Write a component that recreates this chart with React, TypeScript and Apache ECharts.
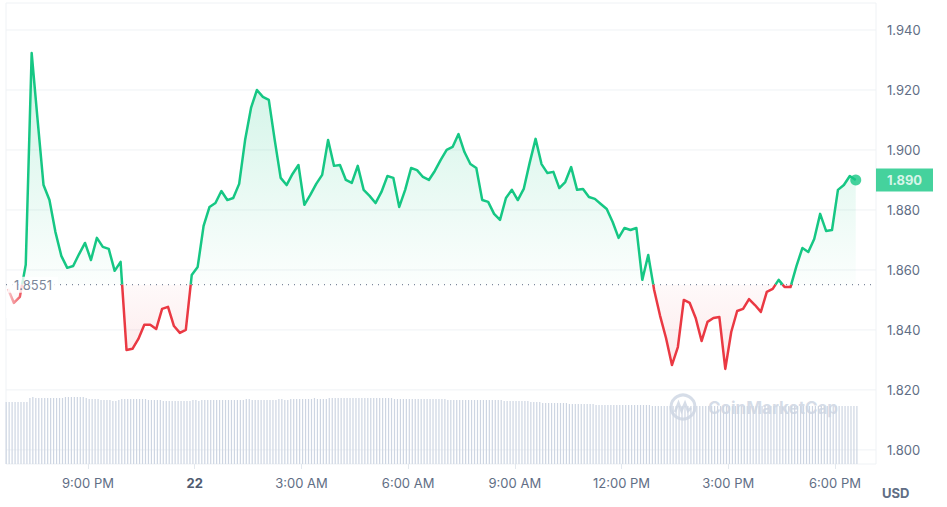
import React, { useEffect, useRef } from "react";
import * as echarts from "echarts";

const GREEN = "#16c784";
const RED = "#ea3943";
const LABEL = "#616e85";
const GRIDC = "#eff2f5";

const BASELINE = 1.8551;
const LAST_PRICE = 1.89;

// minutes after 18:00 on the 21st
const priceStartMinute = 45;
const priceStepMinutes = 10;
const prices = [
  1.8537, 1.849, 1.851, 1.8617, 1.9323, 1.91, 1.8883, 1.8833, 1.8727, 1.8647,
  1.8607, 1.8613, 1.8653, 1.869, 1.8633, 1.8707, 1.8677, 1.867, 1.8597, 1.8627,
  1.8333, 1.8337, 1.837, 1.8417, 1.8417, 1.8403, 1.847, 1.8477, 1.8413, 1.839,
  1.84, 1.8583, 1.861, 1.8747, 1.881, 1.8823, 1.8863, 1.8833, 1.884, 1.8887,
  1.9033, 1.914, 1.92, 1.9177, 1.9167, 1.9033, 1.8907, 1.8883, 1.892, 1.895,
  1.8817, 1.885, 1.8887, 1.8917, 1.9033, 1.8947, 1.895, 1.89, 1.889, 1.8947,
  1.8867, 1.8847, 1.8823, 1.886, 1.8913, 1.8907, 1.881, 1.8867, 1.894, 1.8933,
  1.891, 1.89, 1.893, 1.8967, 1.9, 1.901, 1.9053, 1.8993, 1.8953, 1.894,
  1.8833, 1.8827, 1.8787, 1.8767, 1.884, 1.8867, 1.8833, 1.887, 1.8957, 1.9037,
  1.8953, 1.8923, 1.8927, 1.8873, 1.8893, 1.8943, 1.8867, 1.887, 1.8843, 1.8837,
  1.882, 1.8803, 1.876, 1.8707, 1.874, 1.8733, 1.874, 1.8567, 1.865, 1.8533,
  1.8447, 1.8373, 1.8283, 1.8343, 1.85, 1.849, 1.844, 1.8363, 1.8427, 1.844,
  1.8443, 1.827, 1.8393, 1.8463, 1.847, 1.8503, 1.8483, 1.846, 1.8527, 1.8537,
  1.8567, 1.8543, 1.8543, 1.8613, 1.8673, 1.866, 1.8703, 1.8787, 1.873, 1.8733,
  1.8867, 1.8883, 1.8913, 1.89,
];

const volumeStartMinute = 42;
const volumeStepMinutes = 5;
const volumes = [
  62, 62, 62, 62, 62, 62, 62, 62, 66, 67,
  66, 66, 66, 66, 66, 66, 66, 66, 66, 66,
  67, 67, 67, 67, 67, 67, 67, 66, 65, 65,
  65, 65, 64, 64, 64, 64, 63, 63, 64, 65,
  65, 65, 65, 65, 65, 65, 65, 65, 64, 64,
  64, 64, 64, 63, 63, 63, 63, 63, 63, 63,
  63, 63, 63, 64, 64, 63, 64, 64, 64, 64,
  64, 64, 64, 64, 64, 64, 64, 64, 64, 64,
  64, 65, 65, 64, 64, 64, 64, 64, 64, 64,
  64, 64, 65, 65, 64, 64, 65, 65, 65, 65,
  65, 65, 65, 65, 66, 65, 65, 65, 65, 66,
  66, 66, 66, 66, 66, 66, 66, 66, 66, 66,
  66, 66, 66, 66, 66, 66, 66, 66, 66, 66,
  66, 65, 65, 65, 65, 65, 65, 65, 65, 65,
  65, 65, 65, 65, 65, 65, 65, 65, 65, 64,
  64, 64, 64, 64, 64, 64, 64, 64, 64, 64,
  64, 64, 64, 64, 64, 64, 64, 64, 63, 63,
  63, 63, 63, 63, 63, 63, 63, 62, 62, 62,
  62, 61, 61, 61, 61, 61, 61, 61, 61, 61,
  60, 60, 60, 60, 60, 60, 60, 60, 60, 59,
  59, 59, 59, 59, 59, 59, 59, 59, 59, 59,
  59, 59, 59, 59, 59, 59, 59, 59, 58, 58,
  58, 58, 58, 58, 58, 58, 58, 58, 58, 58,
  58, 58, 58, 58, 58, 58, 58, 58, 58, 58,
  58, 58, 58, 58, 58, 58, 58, 58, 58, 58,
  58, 58, 58, 58, 58, 58, 58, 58, 58, 58,
  58, 58, 58, 58, 58, 58, 58, 58, 58, 58,
  58, 58, 58, 58, 58, 58, 58, 58, 58, 58,
  58, 58, 58, 58, 58, 58, 58, 58,
];

const xTickMinutes = [180, 360, 540, 720, 900, 1080, 1260, 1440];
const xTickLabels = ["9:00 PM", "22", "3:00 AM", "6:00 AM", "9:00 AM", "12:00 PM", "3:00 PM", "6:00 PM"];
const yTickValues = [1.8, 1.82, 1.84, 1.86, 1.88, 1.9, 1.92, 1.94];

// visible plot box (data units)
const X_MIN = 41.7;
const X_MAX = 1509.2;
const Y_MIN = 1.7953;
const Y_MAX = 1.949;
const VOL_MAX = 461;

const W = 947;
const H = 507;

export default function App() {
  const ref = useRef<HTMLDivElement>(null);

  useEffect(() => {
    const chart = echarts.init(ref.current!, null, { renderer: "svg" });

    const pricePoints = prices.map((p, i) => [priceStartMinute + i * priceStepMinutes, p]);
    const volumePoints = volumes.map((v, i) => [volumeStartMinute + i * volumeStepMinutes, v]);
    const lastT = pricePoints[pricePoints.length - 1][0];

    // add baseline crossings so fills and the two line colours meet exactly
    const aug: number[][] = [];
    pricePoints.forEach(([t, v], i) => {
      if (i > 0) {
        const [t0, v0] = pricePoints[i - 1];
        if ((v0 - BASELINE) * (v - BASELINE) < 0) {
          const tc = t0 + ((BASELINE - v0) / (v - v0)) * (t - t0);
          aug.push([tc, BASELINE]);
        }
      }
      aug.push([t, v]);
    });
    const greenArea = aug.map(([t, v]) => [t, Math.max(v, BASELINE)]);
    const redArea = aug.map(([t, v]) => [t, Math.min(v, BASELINE)]);
    const greenLine = aug.map(([t, v]) => [t, v >= BASELINE ? v : "-"]);
    const redLine = aug.map(([t, v]) => [t, v <= BASELINE ? v : "-"]);

    const wm = "rgba(200,209,224,0.75)";

    const gridLineSeries = yTickValues.map((v) => ({
      type: "line",
      data: [
        [X_MIN, v],
        [X_MAX, v],
      ],
      symbol: "none",
      lineStyle: { color: GRIDC, width: 1 },
      silent: true,
      z: 0,
    }));

    const option: any = {
      animation: false,
      textStyle: { fontFamily: "Inter, 'Noto Sans', sans-serif" },
      grid: {
        left: 6,
        right: 71,
        top: 3,
        bottom: 43,
        show: true,
        borderColor: GRIDC,
        borderWidth: 1,
        backgroundColor: "transparent",
      },
      xAxis: {
        type: "value",
        min: X_MIN,
        max: X_MAX,
        axisLine: { show: false },
        splitLine: { show: false },
        axisTick: {
          show: true,
          customValues: xTickMinutes,
          length: 5,
          lineStyle: { color: "#e3e8ee" },
        },
        axisLabel: {
          customValues: xTickMinutes,
          margin: 12,
          color: LABEL,
          fontSize: 13,
          formatter: (v: number) => {
            const idx = xTickMinutes.findIndex((m) => Math.abs(m - v) < 0.5);
            if (idx < 0) return "";
            const s = xTickLabels[idx];
            return idx === 1 ? `{b|${s}}` : s;
          },
          rich: { b: { fontWeight: "bold", color: "#4f5b70", fontSize: 13 } },
        },
      },
      yAxis: [
        {
          type: "value",
          position: "right",
          min: Y_MIN,
          max: Y_MAX,
          axisLine: { show: false },
          axisTick: { show: false, customValues: yTickValues },
          splitLine: { show: false },
          axisLabel: {
            customValues: yTickValues,
            formatter: (v: number) => v.toFixed(3),
            color: LABEL,
            fontSize: 13,
            margin: 11,
          },
        },
        {
          type: "value",
          min: 0,
          max: VOL_MAX,
          show: false,
          splitLine: { show: false },
        },
      ],
      series: [
        {
          type: "bar",
          xAxisIndex: 0,
          yAxisIndex: 1,
          data: volumePoints,
          barWidth: 1.2,
          itemStyle: { color: "#cdd5e2" },
          silent: true,
          z: 1,
        },
        {
          type: "line",
          data: greenArea,
          symbol: "none",
          lineStyle: { width: 0 },
          areaStyle: {
            origin: BASELINE,
            color: new echarts.graphic.LinearGradient(0, 0, 0, 1, [
              { offset: 0, color: "rgba(22,199,132,0.3)" },
              { offset: 1, color: "rgba(22,199,132,0.02)" },
            ]),
          },
          silent: true,
          z: 2,
        },
        {
          type: "line",
          data: redArea,
          symbol: "none",
          lineStyle: { width: 0 },
          areaStyle: {
            origin: BASELINE,
            color: new echarts.graphic.LinearGradient(0, 0, 0, 1, [
              { offset: 0, color: "rgba(234,57,67,0.04)" },
              { offset: 1, color: "rgba(234,57,67,0.16)" },
            ]),
          },
          silent: true,
          z: 2,
        },
        {
          type: "line",
          data: greenLine,
          symbol: "none",
          connectNulls: false,
          lineStyle: { width: 2.5, color: GREEN, join: "round" },
          silent: true,
          z: 4,
        },
        {
          type: "line",
          data: redLine,
          symbol: "none",
          connectNulls: false,
          lineStyle: { width: 2.5, color: RED, join: "round" },
          silent: true,
          z: 4,
        },
        {
          type: "line",
          data: [
            [X_MIN, BASELINE],
            [X_MAX, BASELINE],
          ],
          symbol: "none",
          lineStyle: { type: [1, 5], color: "#7d879b", width: 1.2 },
          silent: true,
          z: 3,
        },
        ...gridLineSeries,
        {
          type: "scatter",
          data: [[X_MIN, BASELINE]],
          symbol: "rect",
          symbolSize: [50, 16],
          symbolOffset: [27, 0],
          itemStyle: { color: "#ffffff" },
          clip: false,
          silent: true,
          z: 7,
          label: {
            show: true,
            position: "inside",
            formatter: BASELINE.toFixed(4),
            color: "#58667e",
            fontSize: 13,
          },
        },
        {
          type: "scatter",
          data: [[X_MAX, LAST_PRICE]],
          symbol: "rect",
          symbolSize: [57, 23],
          symbolOffset: [28.5, 0],
          itemStyle: { color: GREEN },
          clip: false,
          silent: true,
          z: 7,
          label: {
            show: true,
            position: "inside",
            formatter: LAST_PRICE.toFixed(3),
            color: "#ffffff",
            fontWeight: "bold",
            fontSize: 13,
          },
        },
        {
          type: "scatter",
          data: [[lastT, LAST_PRICE]],
          symbol: "circle",
          symbolSize: 11,
          itemStyle: { color: GREEN },
          clip: false,
          silent: true,
          z: 7,
        },
      ],
      graphic: [
        {
          type: "rect",
          z: 5,
          silent: true,
          shape: { x: 6, y: 288, width: 19, height: 30 },
          style: {
            fill: new echarts.graphic.LinearGradient(0, 0, 1, 0, [
              { offset: 0, color: "rgba(255,255,255,0.8)" },
              { offset: 1, color: "rgba(255,255,255,0)" },
            ]),
          },
        },
        {
          type: "text",
          x: 882,
          y: 493,
          silent: true,
          style: {
            text: "USD",
            fill: LABEL,
            font: "bold 13px Inter, 'Noto Sans', sans-serif",
            verticalAlign: "middle",
            align: "left",
          },
        },
        {
          type: "group",
          z: 5,
          silent: true,
          children: [
            {
              type: "circle",
              shape: { cx: 683, cy: 407, r: 12 },
              style: { fill: "none", stroke: wm, lineWidth: 3 },
            },
            {
              type: "polyline",
              shape: {
                points: [
                  [675, 412],
                  [678.5, 403],
                  [681.5, 411],
                  [685, 403],
                  [688, 411],
                  [691, 408],
                ],
              },
              style: { fill: "none", stroke: wm, lineWidth: 2.5 },
            },
            {
              type: "text",
              x: 708,
              y: 408,
              style: {
                text: "CoinMarketCap",
                fill: wm,
                font: "bold 17px Inter, 'Noto Sans', sans-serif",
                verticalAlign: "middle",
                align: "left",
              },
            },
          ],
        },
      ],
    };

    chart.setOption(option);
    return () => chart.dispose();
  }, []);

  return (
    <div
      ref={ref}
      style={{ position: "fixed", left: 0, top: 0, width: W, height: H, background: "#ffffff" }}
    />
  );
}
